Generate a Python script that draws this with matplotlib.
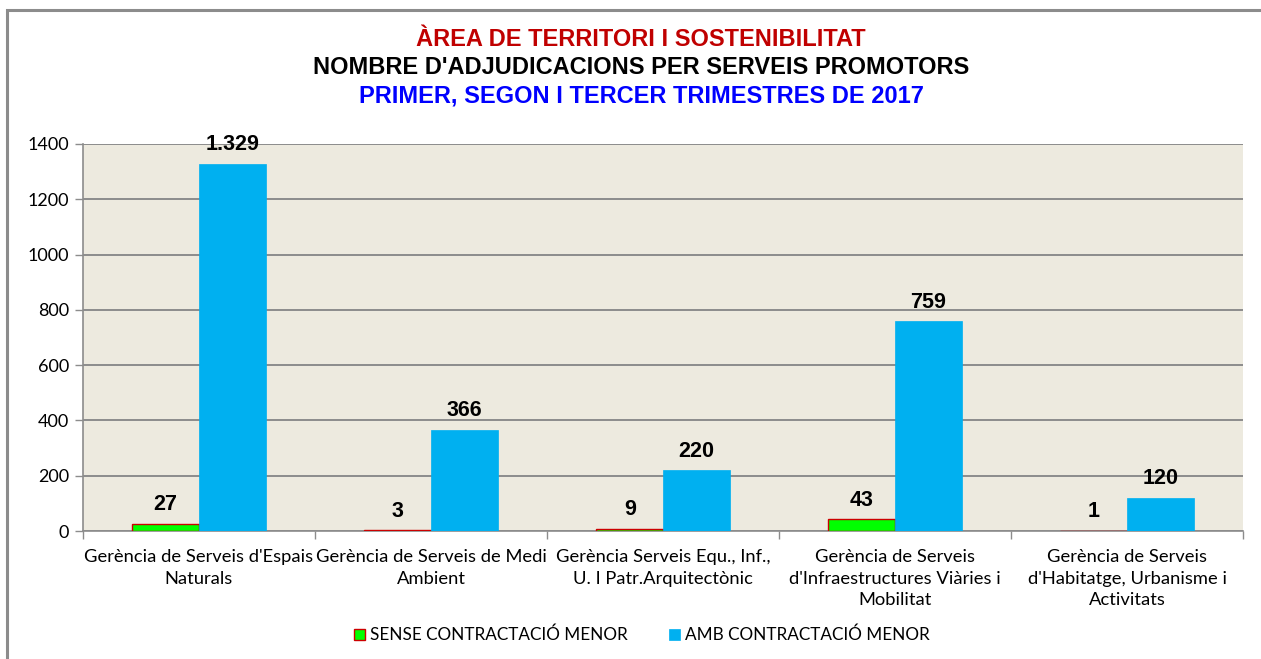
import matplotlib
matplotlib.use("Agg")
import matplotlib.pyplot as plt
from matplotlib.patches import Rectangle
import numpy as np

categories = [
    "Gerència de Serveis d'Espais\nNaturals",
    "Gerència de Serveis de Medi\nAmbient",
    "Gerència Serveis Equ., Inf.,\nU. I Patr.Arquitectònic",
    "Gerència de Serveis\nd'Infraestructures Viàries i\nMobilitat",
    "Gerència de Serveis\nd'Habitatge, Urbanisme i\nActivitats",
]
sense = [27, 3, 9, 43, 1]
amb = [1329, 366, 220, 759, 120]
series_names = ["SENSE CONTRACTACIÓ MENOR", "AMB CONTRACTACIÓ MENOR"]
yticks = [0, 200, 400, 600, 800, 1000, 1200, 1400]

W, H = 1261, 659
fig = plt.figure(figsize=(W / 100, H / 100), dpi=100)
fig.patch.set_facecolor("white")

# outer frame
fig.patches.append(Rectangle((7 / W, -0.2), 1.3, 1.2 - 10 / H,
                             transform=fig.transFigure, fill=False,
                             edgecolor="#8c8c8c", linewidth=2.2, zorder=0))

ax = fig.add_axes([83 / W, 1 - 531 / H, (1243 - 83) / W, (531 - 144) / H])
ax.set_facecolor("#EDEADF")

x = np.arange(len(categories))
bw = 0.287
b1 = ax.bar(x - bw / 2, sense, bw, color="#00FF00", edgecolor="#CC0000",
            linewidth=1.0, label=series_names[0], zorder=3)
b2 = ax.bar(x + bw / 2, amb, bw, color="#00B0F0", edgecolor="#00B0F0",
            linewidth=0.5, label=series_names[1], zorder=3)

def fmt(v):
    return f"{v:,}".replace(",", ".")

for bars, vals in ((b1, sense), (b2, amb)):
    for r, v in zip(bars, vals):
        ax.annotate(fmt(v), (r.get_x() + r.get_width() / 2, v),
                    xytext=(0, 6), textcoords="offset points",
                    ha="center", va="bottom", fontsize=15.5, fontweight="bold",
                    family="Liberation Sans", zorder=5)

ax.set_xlim(-0.5, len(categories) - 0.5)
ax.set_ylim(0, 1400)
ax.set_yticks(yticks)
ax.set_yticklabels([str(t) for t in yticks], family="Lato", fontsize=13)
ax.yaxis.grid(True, color="#8c8c8c", linewidth=1.4, zorder=1)
ax.set_axisbelow(True)

ax.set_xticks(x)
ax.set_xticklabels(categories, family="Lato", fontsize=13.2, linespacing=1.42)
ax.tick_params(axis="x", length=0, pad=13)
ax.set_xticks(np.arange(-0.5, len(categories) + 0.5, 1), minor=True)
ax.tick_params(axis="x", which="minor", length=6, color="#8c8c8c", width=1)
ax.tick_params(axis="y", length=6, color="#8c8c8c", width=1, pad=4)

for s in ("top", "right"):
    ax.spines[s].set_visible(False)
for s in ("left", "bottom"):
    ax.spines[s].set_color("#8c8c8c")
    ax.spines[s].set_linewidth(1.2)

# titles
cx = 641 / W
title_kw = dict(ha="center", va="center", fontsize=17, fontweight="bold",
                family="Liberation Sans")
fig.text(cx, 1 - 40 / H, "ÀREA DE TERRITORI I SOSTENIBILITAT", color="#C00000", **title_kw)
fig.text(cx, 1 - 68 / H, "NOMBRE D'ADJUDICACIONS PER SERVEIS PROMOTORS", color="black", **title_kw)
fig.text(cx, 1 - 96 / H, "PRIMER, SEGON I TERCER TRIMESTRES DE 2017", color="#0000FF", **title_kw)

leg = fig.legend(handles=[b1, b2], labels=series_names, loc="center",
                 bbox_to_anchor=(642 / W, 1 - 635 / H), ncol=2, frameon=False,
                 prop={"family": "Lato", "size": 12.3}, handlelength=0.65,
                 handleheight=0.65, handletextpad=0.3, columnspacing=2.4)

fig.savefig("out.png", dpi=100)
